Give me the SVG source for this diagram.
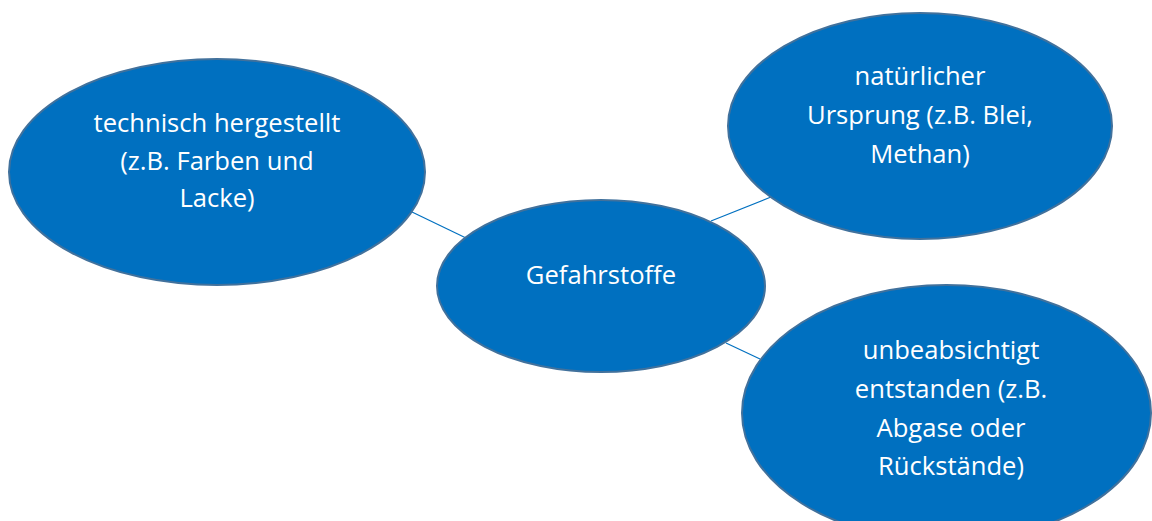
<svg xmlns="http://www.w3.org/2000/svg" width="1152" height="521" viewBox="0 0 1152 521">
<style>
.node ellipse{fill:#0070C0;stroke:#41719C;stroke-width:2}
.node text{font-family:"Open Sans","Noto Sans",sans-serif;font-size:25.6px;fill:#ffffff;text-anchor:middle}
.conn line{stroke:#0070C0;stroke-width:1.2}
</style>
<rect width="1152" height="521" fill="#ffffff"/>
<g id="connectors" class="conn">
<line x1="412" y1="212" x2="466" y2="238"/>
<line x1="711" y1="221" x2="771" y2="197"/>
<line x1="726" y1="343" x2="760" y2="359"/>
</g>
<g id="node-technisch" class="node">
<ellipse cx="217" cy="172" rx="208" ry="113"/>
<text x="217" y="132">technisch hergestellt</text>
<text x="217" y="170">(z.B. Farben und</text>
<text x="217" y="207">Lacke)</text>
</g>
<g id="node-gefahrstoffe" class="node">
<ellipse cx="601" cy="286" rx="164" ry="86"/>
<text x="601" y="284">Gefahrstoffe</text>
</g>
<g id="node-natuerlich" class="node">
<ellipse cx="920" cy="126" rx="192" ry="113"/>
<text x="920" y="85">natürlicher</text>
<text x="920" y="124">Ursprung (z.B. Blei,</text>
<text x="920" y="163">Methan)</text>
</g>
<g id="node-unbeabsichtigt" class="node">
<ellipse cx="946.5" cy="413" rx="204.5" ry="128"/>
<text x="951" y="359">unbeabsichtigt</text>
<text x="951" y="398">entstanden (z.B.</text>
<text x="951" y="437">Abgase oder</text>
<text x="951" y="475">Rückstände)</text>
</g>
</svg>
